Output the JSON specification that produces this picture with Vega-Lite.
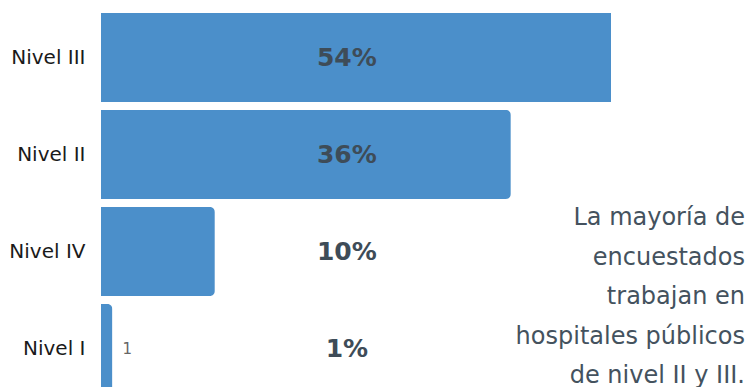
{
  "$schema": "https://vega.github.io/schema/vega-lite/v6.json",
  "autosize": "none",
  "width": 510,
  "height": 388,
  "padding": {"left": 101, "top": 9, "right": 138, "bottom": 0},
  "background": "white",
  "config": {"view": {"stroke": null}, "font": "DejaVu Sans"},
  "datasets": {
    "niveles": [
      {"nivel": "Nivel III", "pct": 54, "etiqueta": "54%", "marca": ""},
      {"nivel": "Nivel II", "pct": 36, "etiqueta": "36%", "marca": ""},
      {"nivel": "Nivel IV", "pct": 10, "etiqueta": "10%", "marca": ""},
      {"nivel": "Nivel I", "pct": 1, "etiqueta": "1%", "marca": "1"}
    ],
    "nota": [
      {"nivel": "Nivel IV", "texto": "La mayoría de\nencuestados\ntrabajan en\nhospitales públicos\nde nivel II y III."}
    ]
  },
  "resolve": {"scale": {"x": "independent"}},
  "encoding": {
    "y": {"field": "nivel", "type": "nominal", "sort": ["Nivel III", "Nivel II", "Nivel IV", "Nivel I"],
          "scale": {"domain": ["Nivel III", "Nivel II", "Nivel IV", "Nivel I"], "paddingInner": 0.08, "paddingOuter": 0.04},
          "axis": {"title": null, "domain": false, "ticks": false, "labelPadding": 16,
                   "labelFontSize": 20, "labelColor": "#1a1a1a", "labelFont": "DejaVu Sans"}}
  },
  "layer": [
    {
      "data": {"name": "niveles"},
      "transform": [{"filter": "datum.nivel !== 'Nivel III'"}],
      "mark": {"type": "bar", "color": "#4b8fca", "cornerRadiusEnd": 5},
      "encoding": {
        "x": {"field": "pct", "type": "quantitative", "scale": {"domain": [0, 44.8], "nice": false, "zero": true}, "axis": null}
      }
    },
    {
      "data": {"name": "niveles"},
      "transform": [{"filter": "datum.nivel === 'Nivel III'"}],
      "mark": {"type": "bar", "color": "#4b8fca"},
      "encoding": {
        "x": {"field": "pct", "type": "quantitative", "scale": {"domain": [0, 44.8], "nice": false, "zero": true, "clamp": true}, "axis": null}
      }
    },
    {
      "data": {"name": "niveles"},
      "mark": {"type": "text", "font": "DejaVu Sans", "fontWeight": "bold", "fontSize": 25, "color": "#3e4c58", "align": "center", "baseline": "middle"},
      "encoding": {
        "x": {"datum": 21.6, "type": "quantitative", "scale": {"domain": [0, 44.8], "nice": false, "zero": true}, "axis": null},
        "text": {"field": "etiqueta"}
      }
    },
    {
      "data": {"name": "niveles"},
      "mark": {"type": "text", "font": "DejaVu Sans", "fontWeight": "normal", "fontSize": 15, "color": "#666666", "align": "center", "baseline": "middle"},
      "encoding": {
        "x": {"datum": 2.3, "type": "quantitative", "scale": {"domain": [0, 44.8], "nice": false, "zero": true}, "axis": null},
        "text": {"field": "marca"}
      }
    },
    {
      "data": {"name": "nota"},
      "mark": {"type": "text", "font": "DejaVu Sans", "fontSize": 24, "color": "#44525e", "align": "right", "baseline": "middle", "lineBreak": "\n", "lineHeight": 39.5, "yOffset": -33.5},
      "encoding": {
        "x": {"datum": 56.57, "type": "quantitative", "scale": {"domain": [0, 44.8], "nice": false, "zero": true}, "axis": null},
        "text": {"field": "texto"}
      }
    }
  ]
}
